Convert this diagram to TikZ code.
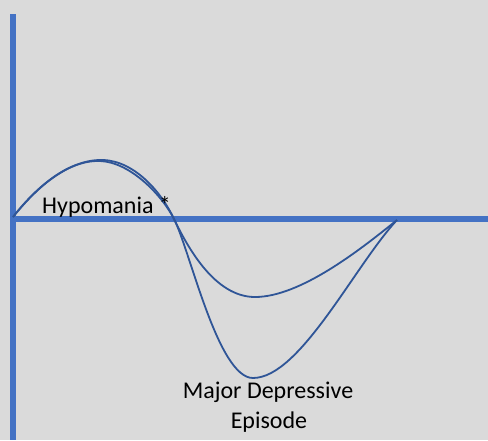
\documentclass[tikz,border=0pt]{standalone}
\usepackage{fontspec}
\setmainfont{Carlito}
\usetikzlibrary{positioning}
\definecolor{bggray}{HTML}{DADADA}
\definecolor{axisblue}{HTML}{4472C4}
\definecolor{curveblue}{HTML}{2F5597}
\tikzset{
  axisline/.style={draw=axisblue,line width=6pt},
  moodcurve/.style={draw=curveblue,line width=1.8pt,line join=round},
  caption/.style={font=\fontsize{24}{30}\selectfont,inner sep=0pt,anchor=base}
}

\begin{document}
\begin{tikzpicture}[x=1pt,y=-1pt]
        % Background
        \fill[bggray] (0,0) rectangle (488,440);
        \useasboundingbox (0,0) rectangle (488,440);

        % Axes
        \coordinate (top) at (13,14);
        \coordinate (bottom) at (13,440);
        \coordinate (origin) at (13,219);
        \coordinate (right) at (488,219);
        \draw[axisline] (top) -- (bottom);
        \draw[axisline] (origin) -- (right);

        % Mild episode
        \draw[moodcurve] (13,217) .. controls (45,177) and (75,160) .. (100,161)
            .. controls (130,162) and (162,195) .. (174,219)
            .. controls (188,248) and (215,297) .. (255,297)
            .. controls (300,297) and (360,250) .. (397,220);

        % Severe episode
        \draw[moodcurve] (13,217) .. controls (45,176) and (77,159) .. (103,160)
            .. controls (135,161) and (162,193) .. (174,219)
            .. controls (190,250) and (218,378) .. (253,378)
            .. controls (300,378) and (355,265) .. (397,220);

        % Labels
        \node[caption,anchor=base west] (hypo) at (42,213) {Hypomania *};
        \node[caption] (mde1) at (268,398) {Major Depressive};
        \node[caption] (mde2) at (269,428) {Episode};
    \end{tikzpicture}
\end{document}
